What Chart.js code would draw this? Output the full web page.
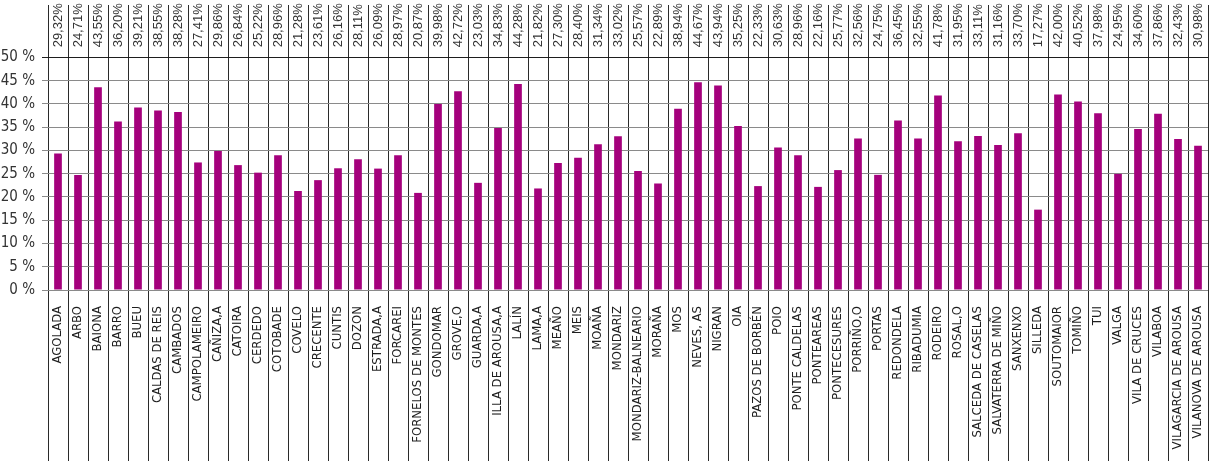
<!DOCTYPE html>
<html>
<head>
<meta charset="utf-8">
<script src="https://cdn.jsdelivr.net/npm/chart.js@4/dist/chart.umd.min.js"></script>
<style>
html,body{margin:0;padding:0;background:#ffffff;}
#wrap{width:1211px;height:464px;}
</style>
</head>
<body>
<div id="wrap"><canvas id="c" width="1211" height="464"></canvas></div>
<script>
const categories = [
  "AGOLADA","ARBO","BAIONA","BARRO","BUEU","CALDAS DE REIS","CAMBADOS","CAMPOLAMEIRO",
  "CAÑIZA,A","CATOIRA","CERDEDO","COTOBADE","COVELO","CRECENTE","CUNTIS","DOZON",
  "ESTRADA,A","FORCAREI","FORNELOS DE MONTES","GONDOMAR","GROVE,O","GUARDA,A",
  "ILLA DE AROUSA,A","LALÍN","LAMA,A","MEAÑO","MEIS","MOAÑA","MONDARIZ",
  "MONDARIZ-BALNEARIO","MORAÑA","MOS","NEVES, AS","NIGRAN","OIA","PAZOS DE BORBÉN",
  "POIO","PONTE CALDELAS","PONTEAREAS","PONTECESURES","PORRIÑO,O","PORTAS",
  "REDONDELA","RIBADUMIA","RODEIRO","ROSAL,O","SALCEDA DE CASELAS",
  "SALVATERRA DE MIÑO","SANXENXO","SILLEDA","SOUTOMAIOR","TOMIÑO","TUI","VALGA",
  "VILA DE CRUCES","VILABOA","VILAGARCIA DE AROUSA","VILANOVA DE AROUSA"
];
const values = [
  29.32,24.71,43.55,36.20,39.21,38.55,38.28,27.41,
  29.86,26.84,25.22,28.96,21.28,23.61,26.16,28.11,
  26.09,28.97,20.87,39.98,42.72,23.03,
  34.83,44.28,21.82,27.30,28.40,31.34,33.02,
  25.57,22.89,38.94,44.67,43.94,35.25,22.33,
  30.63,28.96,22.16,25.77,32.56,24.75,
  36.45,32.55,41.78,31.95,33.11,
  31.16,33.70,17.27,42.00,40.52,37.98,24.95,
  34.60,37.86,32.43,30.98
];
const yMin = 0;
const yMax = 50;        // last labelled tick
const yStep = 5;
const yHeadroom = 61.25; // axis extends above 50 % to hold the value row
const valueLabels = values.map(v => v.toFixed(2).replace('.', ',') + '%');

const narrow = "'Liberation Sans Narrow', 'DejaVu Sans Condensed', 'Arial Narrow', sans-serif";
const regular = "'Liberation Sans', Arial, sans-serif";

const valueRow = {
  id: 'valueRow',
  afterDatasetsDraw(chart) {
    const ctx = chart.ctx;
    const xs = chart.scales.x, ys = chart.scales.y;
    const yBase = ys.getPixelForValue(yMax) - 10;
    ctx.save();
    ctx.fillStyle = '#333333';
    ctx.font = "13px " + regular;
    ctx.textAlign = 'left';
    ctx.textBaseline = 'middle';
    valueLabels.forEach((t, i) => {
      const x = xs.getPixelForValue(i);
      ctx.save();
      ctx.translate(x + 0.5, yBase);
      ctx.rotate(-Math.PI / 2);
      ctx.fillText(t, 0, 0);
      ctx.restore();
    });
    ctx.restore();
  }
};

new Chart(document.getElementById('c'), {
  type: 'bar',
  data: {
    labels: categories,
    datasets: [{
      data: values,
      backgroundColor: '#a4007c',
      borderWidth: 0,
      barPercentage: 0.385,
      categoryPercentage: 1.0
    }]
  },
  options: {
    responsive: false,
    animation: false,
    devicePixelRatio: 1,
    layout: { padding: { top: 5, bottom: 3, left: 0, right: 3 } },
    plugins: { legend: { display: false }, tooltip: { enabled: false } },
    scales: {
      x: {
        type: 'category',
        position: 'bottom',
        offset: true,
        border: { display: false },
        grid: { offset: true, color: '#2a2a2a', lineWidth: 1, tickLength: 171, drawOnChartArea: true },
        ticks: {
          autoSkip: false, minRotation: 90, maxRotation: 90, padding: -155,
          color: '#1e1e1e', font: { family: narrow, size: 13 }
        },
        afterFit: s => { s.height = 171; s.paddingLeft = 0; s.paddingRight = 0; }
      },
      y: {
        min: yMin, max: yHeadroom,
        border: { display: false },
        grid: {
          color: c => {
            const v = c.tick ? c.tick.value : 0;
            if (v > yMax + 0.001) return 'rgba(0,0,0,0)';
            return v === yMax ? '#1e1e1e' : '#8a8a8a';
          },
          lineWidth: 1, tickLength: 6
        },
        ticks: {
          stepSize: yStep, padding: 7, color: '#333333',
          font: { family: narrow, size: 15 },
          callback: v => (v <= yMax + 0.001 ? v + ' %' : '')
        },
        afterFit: s => { s.width = 48; s.paddingTop = 0; s.paddingBottom = 0; }
      }
    }
  },
  plugins: [valueRow]
});
</script>
</body>
</html>
